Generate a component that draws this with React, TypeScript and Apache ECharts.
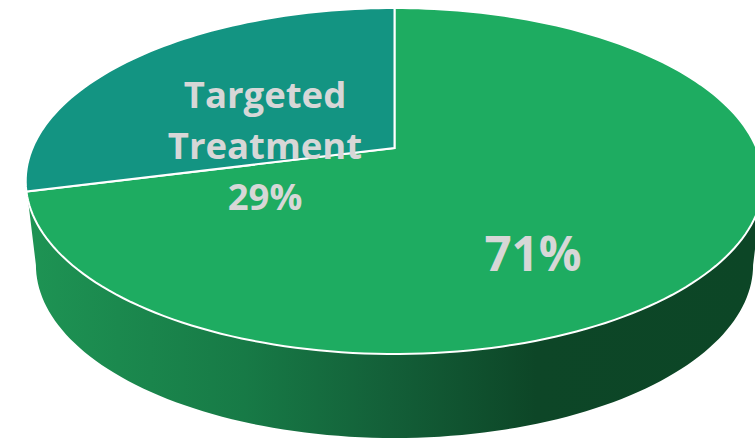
import React, { useEffect, useRef } from "react";
import * as echarts from "echarts";

const sliceNames = ["", "Targeted\nTreatment"];
const sliceValues = [71, 29];
const sliceLabels = ["71%", "29%"];
const sliceColors = ["#1eac61", "#139482"];

const W = 755;
const H = 438;
const CX = 394.5;
const CY = 148;
const RX = 362;
const RY = 166.7;
const K = 0.1908;
const BOTTOM_RX = 352;
const BOTTOM_DY = 84;
const labelAnchors = [
  { x: 533, y: 252, size: 47.5 },
  { x: 265, y: 144.5, size: 36.5 },
];
const LINE_H = 51;

function project(deg: number, rx: number, dy: number): number[] {
  const a = (deg * Math.PI) / 180;
  const u = Math.sin(a);
  const v = Math.cos(a);
  const w = 1 + K * v;
  return [CX + (rx * u) / w, CY + dy - (RY * v) / w];
}

function arc(from: number, to: number, rx: number, dy: number): number[][] {
  const n = Math.max(2, Math.ceil(Math.abs(to - from) / 1.5));
  const pts: number[][] = [];
  for (let i = 0; i <= n; i++) pts.push(project(from + ((to - from) * i) / n, rx, dy));
  return pts;
}

export default function App() {
  const ref = useRef<HTMLDivElement>(null);
  useEffect(() => {
    document.body.style.margin = "0";
    const chart = echarts.init(ref.current!, undefined, { renderer: "svg" });
    const total = sliceValues.reduce((s, x) => s + x, 0);
    const wallFill = new echarts.graphic.LinearGradient(
      25, 0, 755, 0,
      [
        { offset: 0, color: "#1e9454" },
        { offset: 0.3, color: "#177a46" },
        { offset: 0.5, color: "#135f38" },
        { offset: 0.7, color: "#0d4627" },
        { offset: 1, color: "#0c4626" },
      ],
      true as any
    );
    // angle (clockwise from 12 o'clock) at which the outline is widest
    const edge = 90 + (Math.asin(K) * 180) / Math.PI;
    chart.setOption({
      animation: false,
      series: [
        {
          type: "custom",
          coordinateSystem: "none",
          silent: true,
          clip: false,
          data: sliceValues.map((value, i) => ({ value, name: sliceNames[i] })),
          renderItem: (params: any, api: any) => {
            const i = params.dataIndex;
            const before = sliceValues.slice(0, i).reduce((s, x) => s + x, 0);
            const start = (before / total) * 360;
            const end = ((before + Number(api.value(0))) / total) * 360;
            const children: any[] = [];
            if (i === 0) {
              children.push({
                type: "polygon",
                shape: {
                  points: [
                    ...arc(edge, 360 - edge, RX, 0),
                    ...arc(360 - edge, edge, BOTTOM_RX, BOTTOM_DY),
                  ],
                },
                style: { fill: wallFill, stroke: null },
              });
            }
            children.push({
              type: "polygon",
              shape: { points: [[CX, CY], ...arc(start, end, RX, 0)] },
              style: { fill: sliceColors[i], stroke: "#ffffff", lineWidth: 2 },
            });
            const anchor = labelAnchors[i];
            const nm = sliceNames[i];
            const text = nm ? `${nm}\n${sliceLabels[i]}` : sliceLabels[i];
            children.push({
              type: "text",
              x: anchor.x,
              y: anchor.y,
              style: {
                text,
                fill: "#d7d7d7",
                font: `700 ${anchor.size}px "Open Sans"`,
                lineHeight: LINE_H,
                align: "center",
                verticalAlign: "middle",
              },
            });
            return { type: "group", children };
          },
        },
      ],
    });
    return () => chart.dispose();
  }, []);
  return <div ref={ref} style={{ width: W, height: H, position: "absolute", left: 0, top: 0 }} />;
}
